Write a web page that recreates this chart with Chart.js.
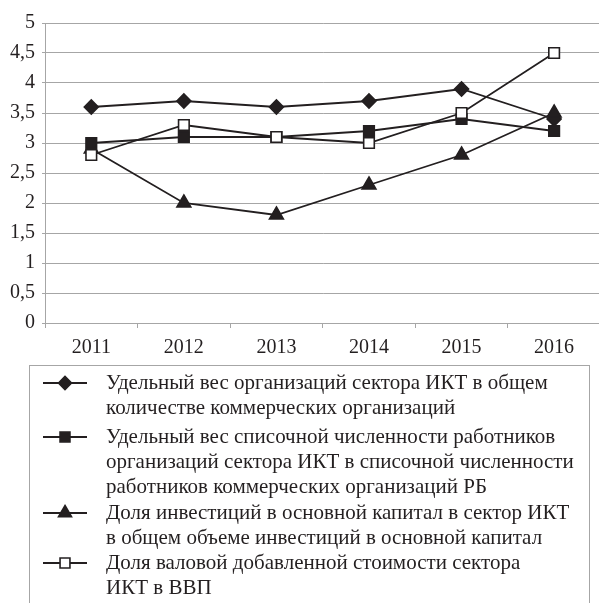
<!DOCTYPE html>
<html>
<head>
<meta charset="utf-8">
<script src="https://cdn.jsdelivr.net/npm/chart.js@4.4.1/dist/chart.umd.min.js"></script>
<style>
  html, body { margin: 0; padding: 0; background: #fff; overflow: hidden; }
  #ictChart { position: absolute; left: 0; top: 0; }
</style>
</head>
<body>
<canvas id="ictChart" width="610" height="603"></canvas>
<script>
const years = ['2011', '2012', '2013', '2014', '2015', '2016']
const orgShare = [3.6, 3.7, 3.6, 3.7, 3.9, 3.4]
const staffShare = [3.0, 3.1, 3.1, 3.2, 3.4, 3.2]
const investShare = [2.9, 2.0, 1.8, 2.3, 2.8, 3.5]
const gvaShare = [2.8, 3.3, 3.1, 3.0, 3.5, 4.5]
const yTicks = ['0', '0,5', '1', '1,5', '2', '2,5', '3', '3,5', '4', '4,5', '5']

const legendLines = [
    ['Удельный вес организаций сектора ИКТ в общем',
     'количестве коммерческих организаций'],
    ['Удельный вес списочной численности работников',
     'организаций сектора ИКТ в списочной численности',
     'работников коммерческих организаций РБ'],
    ['Доля инвестиций в основной капитал в сектор ИКТ',
     'в общем объеме инвестиций в основной капитал'],
    ['Доля валовой добавленной стоимости сектора',
     'ИКТ в ВВП']
]

const ink = '#231f20'
const gridGray = '#a6a6a6'
const serif = "'Liberation Serif', 'Times New Roman', serif"

// маркеры серий (как в исходной диаграмме)
const markers = [
    { style: 'rectRot', radius: 7, fill: ink },
    { style: 'rect', radius: 7.5, fill: ink },
    { style: 'triangle', radius: 8, fill: ink },
    { style: 'rect', radius: 7.5, fill: '#fff' }
]

function makeSet(label, data, m, order) {
    return {
        label: label,
        data: data,
        borderColor: ink,
        borderWidth: 1.8,
        pointStyle: m.style,
        pointRadius: m.radius,
        pointHoverRadius: m.radius,
        pointBackgroundColor: m.fill,
        pointBorderColor: ink,
        pointBorderWidth: 1.6,
        tension: 0,
        order: order
    }
}

// легенда рисуется прямо на canvas, под графиком
const legendPlugin = {
    id: 'boxLegend',
    afterDraw(chart) {
        const ctx = chart.ctx
        ctx.save()
        ctx.strokeStyle = gridGray
        ctx.lineWidth = 1
        ctx.strokeRect(29.5, 365.5, 560, 300)

        const starts = [383, 437, 513, 563]
        const lineStep = 25
        ctx.font = '21px ' + serif
        ctx.fillStyle = ink
        ctx.textBaseline = 'middle'
        ctx.textAlign = 'left'
        for (let i = 0; i < legendLines.length; i++) {
            const y = starts[i]
            ctx.strokeStyle = ink
            ctx.lineWidth = 1.8
            ctx.beginPath()
            ctx.moveTo(43, y)
            ctx.lineTo(87, y)
            ctx.stroke()
            const m = markers[i]
            ctx.fillStyle = m.fill
            ctx.lineWidth = 1.6
            Chart.helpers.drawPoint(ctx, {
                pointStyle: m.style,
                radius: m.radius - 0.5,
                rotation: 0,
                borderWidth: 1.6
            }, 65, y)
            ctx.fillStyle = ink
            for (let j = 0; j < legendLines[i].length; j++) {
                ctx.fillText(legendLines[i][j], 106, y + j * lineStep)
            }
        }
        ctx.restore()
    }
}

const ctx = document.getElementById('ictChart').getContext('2d')
const chart = new Chart(ctx, {
    type: 'line',
    data: {
        labels: years,
        datasets: [
            makeSet(legendLines[0].join(' '), orgShare, markers[0], 3),
            makeSet(legendLines[1].join(' '), staffShare, markers[1], 1),
            makeSet(legendLines[2].join(' '), investShare, markers[2], 2),
            makeSet(legendLines[3].join(' '), gvaShare, markers[3], 0)
        ]
    },
    options: {
        responsive: false,
        animation: false,
        layout: {
            padding: { top: 23, right: 6, bottom: 243, left: 0 }
        },
        plugins: {
            legend: { display: false },
            tooltip: { enabled: false }
        },
        scales: {
            x: {
                offset: true,
                grid: {
                    offset: true,
                    drawOnChartArea: false,
                    drawTicks: true,
                    tickLength: 5,
                    color: gridGray
                },
                border: { color: gridGray, width: 1 },
                ticks: {
                    color: ink,
                    padding: 8,
                    font: { family: serif, size: 20 }
                },
                afterFit: s => { s.height = 37 }
            },
            y: {
                min: 0,
                max: 5,
                ticks: {
                    stepSize: 0.5,
                    color: ink,
                    padding: 7,
                    font: { family: serif, size: 20 },
                    callback: (v, i) => yTicks[i]
                },
                grid: {
                    color: gridGray,
                    tickLength: 3,
                    lineWidth: 1
                },
                border: { color: gridGray, width: 1 },
                afterFit: s => { s.width = 45 }
            }
        }
    },
    plugins: [legendPlugin]
})
</script>
</body>
</html>
